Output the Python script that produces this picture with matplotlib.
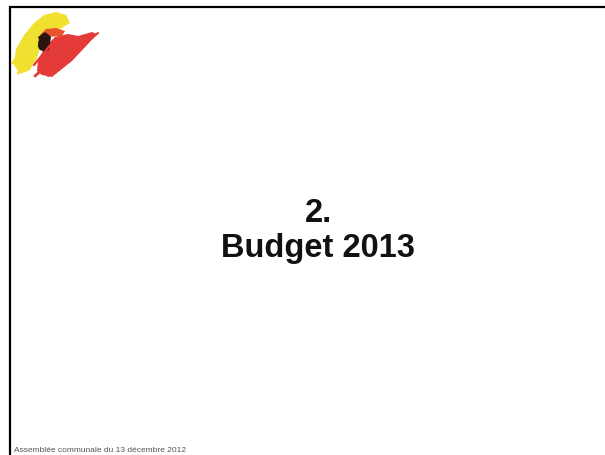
import matplotlib
matplotlib.use("Agg")
import matplotlib.pyplot as plt
from matplotlib.patches import Ellipse, Polygon

title_lines = ["2.", "Budget 2013"]
footer = "Assemblée communale du 13 décembre 2012"

W, H = 605, 456
fig = plt.figure(figsize=(W / 100, H / 100), dpi=100)
ax = fig.add_axes([0, 0, 1, 1])
ax.set_xlim(0, W)
ax.set_ylim(H, 0)
ax.axis("off")

# frame lines (top and left)
ax.plot([9, 605], [7.5, 7.5], color="black", lw=1.6, solid_capstyle="butt")
ax.plot([9.5, 9.5], [7, 456], color="black", lw=1.6, solid_capstyle="butt")

# logo: yellow hand-like brush shape
yellow = "#f0e030"
ax.add_patch(Polygon([(14, 66), (20, 75), (30, 71), (36, 61), (40, 50), (41, 40), (48, 32),
                      (60, 30), (70, 24), (66, 16), (56, 13), (44, 16), (34, 24), (24, 36),
                      (16, 50)], closed=True, color=yellow, lw=0))
for (x0, y0, x1, y1, w) in [(13, 64, 28, 42, 2.2), (18, 74, 36, 52, 2.0), (22, 56, 34, 38, 1.6)]:
    ax.plot([x0, x1], [y0, y1], color=yellow, lw=w, solid_capstyle="round")
# orange/red top crest
ax.add_patch(Polygon([(40, 36), (46, 30), (56, 29), (65, 32), (62, 37), (48, 38)],
                     closed=True, color="#e8542c", lw=0))
# red body
red = "#e43a38"
ax.add_patch(Polygon([(42, 76), (52, 78), (72, 62), (88, 45), (97, 35), (92, 33), (78, 37),
                      (68, 35), (55, 38), (45, 48), (38, 62), (37, 72)],
                     closed=True, color=red, lw=0))
for (x0, y0, x1, y1, w) in [(35, 77, 70, 46, 2.0), (48, 77, 98, 34, 1.5), (34, 66, 52, 44, 1.6)]:
    ax.plot([x0, x1], [y0, y1], color=red, lw=w, solid_capstyle="round")
# dark head shape
ax.add_patch(Ellipse((44, 43), 11, 18, angle=20, color="#2a1410", lw=0))
ax.add_patch(Polygon([(38, 38), (45, 33), (51, 38), (49, 51), (43, 53)], closed=True,
                     color="#2a1410", lw=0))

# title
ax.text(318, 214, title_lines[0], ha="center", va="center", fontsize=23.5,
        fontweight="bold", family="Liberation Sans", color="#111111")
ax.text(318, 249, title_lines[1], ha="center", va="center", fontsize=23.5,
        fontweight="bold", family="Liberation Sans", color="#111111")

# footer
ax.text(14, 451, footer, ha="left", va="center", fontsize=6, family="Liberation Sans",
        color="#555555")

fig.savefig("out.png", dpi=100)
